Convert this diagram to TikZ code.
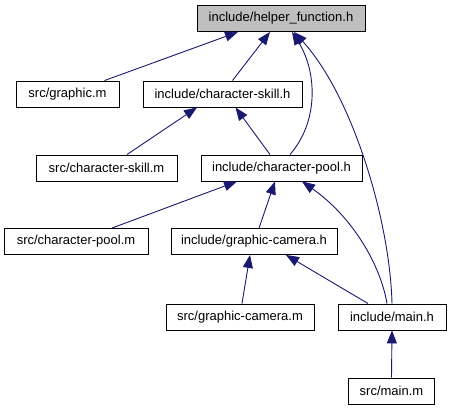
\documentclass[tikz,border=0pt]{standalone}
\usepackage{fontspec}
\setmainfont{Liberation Sans}
\usetikzlibrary{arrows.meta}
\definecolor{edgecol}{RGB}{25,25,112}
\definecolor{rootfill}{RGB}{191,191,191}
\begin{document}
\begin{tikzpicture}[x=1pt,y=-1pt,
  box/.style={draw=black,line width=0.9pt,fill=white,minimum height=26pt,inner sep=0pt,
    font=\fontsize{13}{15}\selectfont},
  root/.style={box,fill=rootfill},
  edge/.style={draw=edgecol,line width=0.9pt,-{Triangle[length=13pt,width=10pt]}}]
\useasboundingbox (0,0) rectangle (451,411);
\node[root,minimum width=168pt] (hf) at (281,18.5) {include/helper\_function.h};
\node[box,minimum width=103pt] (gm) at (67.5,94) {src/graphic.m};
\node[box,minimum width=159pt] (csh) at (222.5,94) {include/character-skill.h};
\node[box,minimum width=141pt] (csm) at (106.5,168) {src/character-skill.m};
\node[box,minimum width=161pt] (cph) at (281.5,168) {include/character-pool.h};
\node[box,minimum width=144pt] (cpm) at (76,241.5) {src/character-pool.m};
\node[box,minimum width=166pt] (gch) at (254,241.5) {include/graphic-camera.h};
\node[box,minimum width=148pt] (gcm) at (240,317) {src/graphic-camera.m};
\node[box,minimum width=108pt] (mh) at (392,317) {include/main.h};
\node[box,minimum width=86pt] (mm) at (391.5,391) {src/main.m};

\draw[edge] ([xshift=37pt]gm.north) -- ([xshift=-43pt]hf.south);
\draw[edge] ([xshift=10pt]csh.north) -- ([xshift=-11pt]hf.south);
\draw[edge] ([xshift=8.5pt]cph.north) .. controls (320,120) and (316,70) .. ([xshift=11pt]hf.south);
\draw[edge] ([xshift=0pt]mh.north) .. controls (390,220) and (352,95) .. ([xshift=13pt]hf.south);
\draw[edge] ([xshift=20.5pt]csm.north) -- ([xshift=-25.5pt]csh.south);
\draw[edge] ([xshift=-11.5pt]cph.north) -- ([xshift=13pt]csh.south);
\draw[edge] ([xshift=36pt]cpm.north) -- ([xshift=-44.5pt]cph.south);
\draw[edge] ([xshift=5pt]gch.north) -- ([xshift=-6.5pt]cph.south);
\draw[edge] ([xshift=-5pt]mh.north) .. controls (380,262) and (350,215) .. ([xshift=20.5pt]cph.south);
\draw[edge] ([xshift=2pt]gcm.north) -- ([xshift=-4pt]gch.south);
\draw[edge] ([xshift=-24pt]mh.north) -- ([xshift=32pt]gch.south);
\draw[edge] (mm.north) -- (mh.south);
\end{tikzpicture}
\end{document}
